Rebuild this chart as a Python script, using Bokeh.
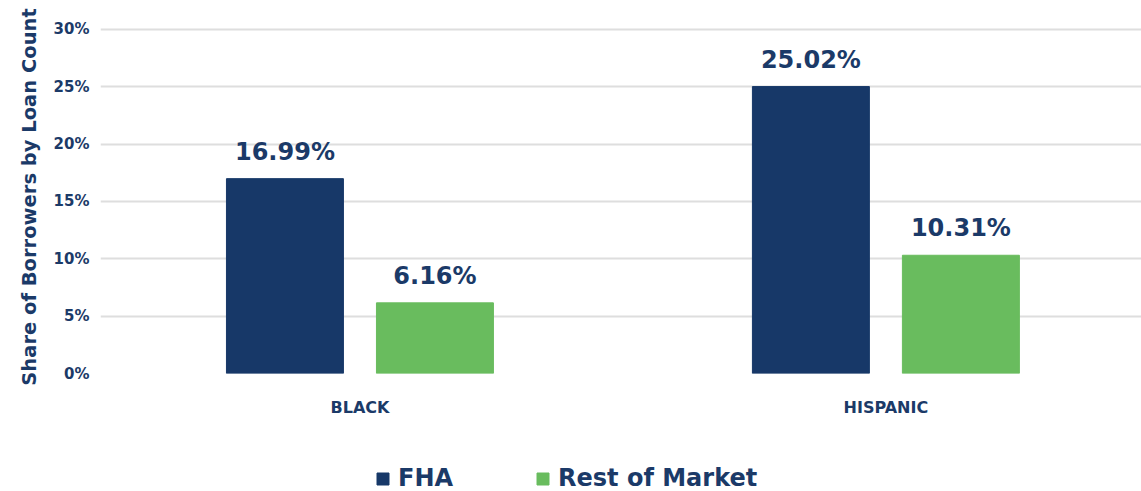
from bokeh.plotting import figure
from bokeh.layouts import column
from bokeh.models import Range1d, ColumnDataSource, FixedTicker, Legend, LegendItem, NumeralTickFormatter
from bokeh.core.properties import value
from bokeh.embed import file_html
from bokeh.resources import INLINE

categories = ["BLACK", "HISPANIC"]
series = ["FHA", "Rest of Market"]
fha = [16.99, 25.02]
rest = [6.16, 10.31]
y_ticks = [0, 5, 10, 15, 20, 25, 30]

NAVY = "#173868"
GREEN = "#69bc5e"
TXT = "#1b3a68"
FONT = "DejaVu Sans"

W = 1141
p = figure(width=W, height=440, output_backend="svg", toolbar_location=None,
           x_range=Range1d(-0.4933, 1.486), y_range=Range1d(0, 30.78),
           min_border_left=100, min_border_right=0, min_border_top=20, min_border_bottom=67)
p.outline_line_color = None
p.background_fill_color = "white"

xs = list(range(len(categories)))
off = 0.1426
bw = 0.2224
src_f = ColumnDataSource(dict(x=[x - off for x in xs], top=fha, lab=[f"{v:.2f}%" for v in fha]))
src_r = ColumnDataSource(dict(x=[x + off for x in xs], top=rest, lab=[f"{v:.2f}%" for v in rest]))
p.vbar(x="x", top="top", width=bw, source=src_f, color=NAVY)
p.vbar(x="x", top="top", width=bw, source=src_r, color=GREEN)

for s in (src_f, src_r):
    p.text(x="x", y="top", text="lab", source=s, y_offset=-13, text_align="center",
           text_baseline="bottom", text_font=value(FONT), text_font_style="bold",
           text_font_size="24px", text_color=TXT)

p.xgrid.visible = False
p.ygrid.grid_line_color = "#dedede"
p.ygrid.grid_line_width = 2
p.ygrid.ticker = FixedTicker(ticks=y_ticks)

p.yaxis.ticker = FixedTicker(ticks=y_ticks)
p.yaxis.formatter = NumeralTickFormatter(format="0")
p.yaxis.major_label_overrides = {t: f"{t}%" for t in y_ticks}
p.yaxis.axis_line_color = None
p.yaxis.major_tick_line_color = None
p.yaxis.minor_tick_line_color = None
p.yaxis.major_tick_out = 0
p.yaxis.major_label_text_font = FONT
p.yaxis.major_label_text_font_style = "bold"
p.yaxis.major_label_text_font_size = "15px"
p.yaxis.major_label_text_color = TXT
p.yaxis.major_label_standoff = 11
p.yaxis.axis_label = "Share of Borrowers by Loan Count"
p.yaxis.axis_label_text_font = FONT
p.yaxis.axis_label_text_font_style = "bold"
p.yaxis.axis_label_text_font_size = "19.5px"
p.yaxis.axis_label_text_color = TXT
p.yaxis.axis_label_standoff = 10

p.xaxis.ticker = FixedTicker(ticks=xs)
p.xaxis.major_label_overrides = {i: c for i, c in enumerate(categories)}
p.xaxis.axis_line_color = None
p.xaxis.major_tick_line_color = None
p.xaxis.minor_tick_line_color = None
p.xaxis.major_tick_out = 0
p.xaxis.major_label_text_font = FONT
p.xaxis.major_label_text_font_style = "bold"
p.xaxis.major_label_text_font_size = "16px"
p.xaxis.major_label_text_color = TXT
p.xaxis.major_label_standoff = 24

# legend strip below the chart (keys are hidden copies of the series bars)
lg = figure(width=W, height=51, output_backend="svg", toolbar_location=None,
            x_range=Range1d(0, 1), y_range=Range1d(0, 1),
            x_axis_location=None, y_axis_location=None,
            min_border_left=0, min_border_right=0, min_border_top=0, min_border_bottom=0)
lg.outline_line_color = None
lg.xgrid.visible = False
lg.ygrid.visible = False
k_f = lg.vbar(x="x", top="top", width=bw, source=ColumnDataSource(dict(x=src_f.data["x"], top=fha)),
              color=NAVY, visible=False)
k_r = lg.vbar(x="x", top="top", width=bw, source=ColumnDataSource(dict(x=src_r.data["x"], top=rest)),
              color=GREEN, visible=False)
legend = Legend(items=[LegendItem(label=series[0], renderers=[k_f]),
                       LegendItem(label=series[1], renderers=[k_r])],
                orientation="horizontal", location=(275, -1),
                label_text_font=FONT, label_text_font_style="bold",
                label_text_font_size="24px", label_text_color=TXT,
                glyph_width=15, glyph_height=15, spacing=82, label_standoff=8,
                border_line_color=None, background_fill_alpha=0, margin=0, padding=0)
lg.add_layout(legend, "center")

open("out.html", "w").write(file_html(column(p, lg, spacing=0), INLINE))
